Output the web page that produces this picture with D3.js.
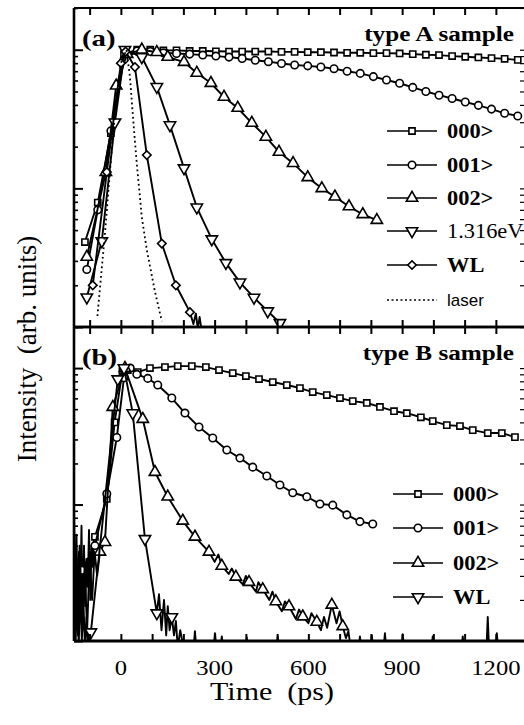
<!DOCTYPE html>
<html>
<head>
<meta charset="utf-8">
<script src="https://cdn.jsdelivr.net/npm/d3@7"></script>
<style>
    html, body { margin: 0; padding: 0; background: #fff; }
    svg { display: block; }
    text { font-family: "Liberation Serif", "Times New Roman", serif; fill: #000; }
</style>
</head>
<body>
<div id="chart"></div>
<script>
// Axis settings
const timeDomain = [-150, 1290];
const intensityDomain = [0.01, 2];
const xLabelTicks = [0, 300, 600, 900, 1200];
const xMinorTicks = [-100, 0, 100, 200, 300, 400, 500, 600, 700, 800, 900, 1000, 1100, 1200];

// ---- panel (a): type A sample ----
const a000T = [-115, -74, -32, 10, 52, 94, 136, 178, 220, 262, 304, 346, 388, 430, 472, 514, 556, 598, 640, 682, 724, 766, 808, 850, 892, 934, 976, 1018, 1060, 1102, 1144, 1186, 1228, 1270];
const a000V = [0.041, 0.079, 0.25, 0.93, 1.0, 1.0, 0.99, 0.99, 0.98, 0.98, 0.975, 0.97, 0.97, 0.97, 0.97, 0.965, 0.965, 0.96, 0.96, 0.955, 0.95, 0.95, 0.945, 0.945, 0.94, 0.93, 0.92, 0.915, 0.90, 0.89, 0.88, 0.87, 0.86, 0.845];

const a001T = [-109, -74, -32, 10, 52, 94, 136, 178, 220, 262, 304, 346, 388, 430, 472, 514, 556, 598, 640, 682, 724, 766, 808, 850, 892, 934, 976, 1018, 1060, 1102, 1144, 1186, 1228, 1270];
const a001V = [0.026, 0.07, 0.26, 0.85, 0.98, 0.97, 0.95, 0.94, 0.93, 0.915, 0.9, 0.885, 0.865, 0.84, 0.82, 0.795, 0.776, 0.765, 0.75, 0.73, 0.70, 0.675, 0.64, 0.605, 0.573, 0.535, 0.50, 0.47, 0.445, 0.42, 0.397, 0.373, 0.348, 0.333];

const a002T = [-109, -48, -15, 20, 67, 115, 150, 202, 243, 288, 330, 374, 419, 464, 506, 551, 598, 643, 685, 730, 774, 819];
const a002V = [0.032, 0.131, 0.55, 0.93, 1.0, 0.96, 0.886, 0.815, 0.68, 0.575, 0.456, 0.38, 0.296, 0.235, 0.183, 0.152, 0.12, 0.10, 0.087, 0.074, 0.065, 0.059];

const a1316T = [-109, -61, -19, 13, 67, 115, 157, 202, 243, 291, 336, 381, 426, 470, 509];
const a1316V = [0.0164, 0.0417, 0.30, 1.0, 0.886, 0.54, 0.286, 0.14, 0.073, 0.043, 0.029, 0.021, 0.0163, 0.013, 0.0107];

const aWLT = [-90, -45, 0, 15, 45, 83, 131, 176, 221];
const aWLV = [0.020, 0.131, 0.8, 0.97, 0.75, 0.174, 0.040, 0.020, 0.0128];
const aWLNoiseT = [232, 240, 246, 252, 258, 264];
const aWLNoiseV = [0.0105, 0.0125, 0.0098, 0.0118, 0.0096, 0.0092];

const aLaserT = [-75, -50, -25, 0, 18, 29, 40, 51, 67, 83, 109, 131];
const aLaserV = [0.012, 0.05, 0.25, 0.8, 1.0, 0.64, 0.3, 0.15, 0.062, 0.036, 0.018, 0.011];

// ---- panel (b): type B sample ----
const b000T = [-83, -45, -20, 5, 22, 54, 93, 141, 182, 227, 272, 314, 358, 400, 442, 486, 531, 573, 614, 659, 701, 742, 787, 829, 874, 915, 960, 998, 1043, 1085, 1126, 1174, 1219, 1261];
const b000V = [0.058, 0.11, 0.4, 0.95, 0.967, 0.935, 1.0, 1.017, 1.034, 1.034, 1.017, 0.967, 0.919, 0.874, 0.831, 0.79, 0.751, 0.714, 0.667, 0.634, 0.603, 0.573, 0.555, 0.519, 0.483, 0.467, 0.436, 0.409, 0.382, 0.376, 0.351, 0.334, 0.334, 0.312];
const b000NoiseT = [-150, -146, -142, -138, -134, -130, -126, -122, -118, -114, -110, -106, -102, -98, -94, -90, -86];
const b000NoiseV = [0.1, 0.015, 0.06, 0.011, 0.045, 0.02, 0.07, 0.012, 0.05, 0.018, 0.04, 0.025, 0.065, 0.02, 0.05, 0.035, 0.06];

const b001T = [-125, -83, -45, -13, 10, 30, 51, 86, 118, 163, 205, 250, 294, 339, 381, 422, 467, 509, 550, 595, 637, 678, 723, 765, 806];
const b001V = [0.033, 0.05, 0.12, 0.31, 0.85, 1.0, 0.9, 0.84, 0.751, 0.603, 0.468, 0.37, 0.307, 0.251, 0.219, 0.188, 0.162, 0.139, 0.122, 0.114, 0.101, 0.099, 0.084, 0.075, 0.072];
const b001NoiseT = [-150, -143, -136, -130];
const b001NoiseV = [0.02, 0.05, 0.015, 0.04];

const b002T = [-67, -51, -26, 13, 70, 109, 150, 198, 237, 282, 323, 368, 410, 454, 496, 538, 582, 627, 675, 710];
const b002V = [0.045, 0.053, 0.518, 1.0, 0.423, 0.173, 0.114, 0.076, 0.058, 0.045, 0.0355, 0.0295, 0.027, 0.0239, 0.0195, 0.0179, 0.0151, 0.0138, 0.0184, 0.0128];
const b002NoiseT = [-148, -140, -132, -124, -116, -108, -100, -92, -84, -76, 300, 312, 345, 355, 390, 400, 432, 440, 475, 485, 515, 525, 560, 570, 600, 610, 640, 650, 660, 690, 700, 720, 728, 735];
const b002NoiseV = [0.03, 0.012, 0.05, 0.015, 0.035, 0.012, 0.04, 0.02, 0.045, 0.03, 0.038, 0.043, 0.031, 0.034, 0.026, 0.030, 0.023, 0.027, 0.020, 0.023, 0.0165, 0.0195, 0.0145, 0.017, 0.0135, 0.016, 0.012, 0.015, 0.0125, 0.0135, 0.0165, 0.0105, 0.0118, 0.009];

const bWLT = [-96, -10, 10, 38, 77, 115, 163];
const bWLV = [0.0116, 0.83, 1.0, 0.468, 0.056, 0.016, 0.015];
const bWLNoiseT = [-150, -145, -140, -135, -130, -125, -120, -115, -110, -105, -100, 122, 130, 138, 145, 150, 156, 170, 176, 182, 190, 200,
    233, 237, 241, 297, 301, 305, 319, 323, 327, 399, 403, 407, 498, 502, 506, 761, 765, 769, 799, 803, 807, 841, 845, 849,
    898, 902, 906, 994, 998, 1002, 1090, 1094, 1098, 1170, 1174, 1178, 1199, 1203, 1207];
const bWLNoiseV = [0.04, 0.009, 0.03, 0.009, 0.025, 0.01, 0.02, 0.009, 0.015, 0.009, 0.012, 0.022, 0.012, 0.02, 0.011, 0.018, 0.012, 0.011, 0.014, 0.009, 0.012, 0.009,
    0.009, 0.0118, 0.009, 0.009, 0.0114, 0.009, 0.009, 0.0108, 0.009, 0.009, 0.0106, 0.009, 0.009, 0.0108, 0.009, 0.009, 0.0108, 0.009, 0.009, 0.011, 0.009, 0.009, 0.0114, 0.009,
    0.009, 0.0112, 0.009, 0.009, 0.0108, 0.009, 0.009, 0.0108, 0.009, 0.009, 0.015, 0.009, 0.009, 0.0114, 0.009];

// Legend labels
const legendA = ['000>', '001>', '002>', '1.316eV', 'WL', 'laser'];
const legendB = ['000>', '001>', '002>', 'WL'];

const zip = (t, v) => t.map((d, i) => [d, v[i]]);

const panels = [
    {
        top: 8, bottom: 327, tag: '(a)', title: 'type A sample',
        legendY: [131, 165, 198, 231, 265, 300], legendX: 387, labels: legendA,
        series: [
            { marks: zip(a000T, a000V), extra: [], symbol: 'square' },
            { marks: zip(a001T, a001V), extra: [], symbol: 'circle' },
            { marks: zip(a002T, a002V), extra: [], symbol: 'up' },
            { marks: zip(a1316T, a1316V), extra: [], symbol: 'down' },
            { marks: zip(aWLT, aWLV), extra: zip(aWLNoiseT, aWLNoiseV), symbol: 'diamond' },
            { marks: zip(aLaserT, aLaserV), extra: [], symbol: null, dotted: true }
        ]
    },
    {
        top: 327, bottom: 641, tag: '(b)', title: 'type B sample',
        legendY: [494, 528, 563, 597], legendX: 393, labels: legendB,
        series: [
            { marks: zip(b000T, b000V), extra: zip(b000NoiseT, b000NoiseV), symbol: 'square' },
            { marks: zip(b001T, b001V), extra: zip(b001NoiseT, b001NoiseV), symbol: 'circle' },
            { marks: zip(b002T, b002V), extra: zip(b002NoiseT, b002NoiseV), symbol: 'up' },
            { marks: zip(bWLT, bWLV), extra: zip(bWLNoiseT, bWLNoiseV), symbol: 'down' }
        ]
    }
];

const W = 524, H = 725;
const left = 74, right = 524;

const svg = d3.select('#chart').append('svg')
    .attr('width', W)
    .attr('height', H);

const x = d3.scaleLinear().domain(timeDomain).range([left, right]);

// the scanned figure is a little stretched sideways, so text gets a horizontal scale
function stretchedText(g, tx, ty, stretch, str) {
    return g.append('text')
        .attr('transform', `translate(${tx},${ty}) scale(${stretch},1)`)
        .style('white-space', 'pre')
        .text(str);
}

function symbolPath(kind) {
    if (kind === 'square') return d3.symbol(d3.symbolSquare, 38)();
    if (kind === 'circle') return d3.symbol(d3.symbolCircle, 44)();
    if (kind === 'up' || kind === 'down') return d3.symbol(d3.symbolTriangle, 56)();
    if (kind === 'diamond') return d3.symbol(d3.symbolSquare, 36)();
    return null;
}
function symbolRotate(kind) {
    if (kind === 'down') return 180;
    if (kind === 'diamond') return 45;
    return 0;
}

function drawMarker(g, kind, cx, cy) {
    g.append('path')
        .attr('d', symbolPath(kind))
        .attr('transform', `translate(${cx},${cy}) rotate(${symbolRotate(kind)})`)
        .attr('fill', '#fff')
        .attr('stroke', '#000')
        .attr('stroke-width', 1.6);
}

panels.forEach((p, pi) => {
    const y = d3.scaleLog().domain(intensityDomain).range([p.bottom, p.top]);
    const clipId = `clip-${pi}`;

    svg.append('clipPath').attr('id', clipId)
        .append('rect')
        .attr('x', left)
        .attr('y', p.top)
        .attr('width', right - left)
        .attr('height', p.bottom - p.top);

    const plot = svg.append('g').attr('clip-path', `url(#${clipId})`);

    const line = d3.line().x(d => x(d[0])).y(d => y(d[1]));

    p.series.forEach(s => {
        const pts = s.marks.concat(s.extra).sort((a, b) => a[0] - b[0]);
        plot.append('path')
            .datum(pts)
            .attr('d', line)
            .attr('fill', 'none')
            .attr('stroke', '#000')
            .attr('stroke-width', s.dotted ? 1.8 : 1.9)
            .attr('stroke-dasharray', s.dotted ? '1.8,3' : null)
            .attr('stroke-linejoin', 'round');

        if (s.symbol) {
            s.marks.forEach(d => drawMarker(plot, s.symbol, x(d[0]), y(d[1])));
        }
    });

    // Left log axis, ticks inward
    const yTicks = y.ticks();
    const isDecade = v => Math.abs(Math.log10(v) - Math.round(Math.log10(v))) < 1e-6;
    svg.append('g')
        .attr('transform', `translate(${left},0)`)
        .call(d3.axisRight(y).tickValues(yTicks.filter(isDecade)).tickSize(9).tickFormat(''))
        .call(g => g.select('.domain').remove())
        .selectAll('line').attr('stroke-width', 2);
    svg.append('g')
        .attr('transform', `translate(${left},0)`)
        .call(d3.axisRight(y).tickValues(yTicks.filter(v => !isDecade(v))).tickSize(4).tickFormat(''))
        .call(g => g.select('.domain').remove())
        .selectAll('line').attr('stroke-width', 1.6);

    // Right axis ticks (mostly cut off by the edge)
    svg.append('g')
        .attr('transform', `translate(${right},0)`)
        .call(d3.axisLeft(y).tickValues(yTicks).tickSize(4).tickFormat(''))
        .call(g => g.select('.domain').remove())
        .selectAll('line').attr('stroke-width', 1.2);

    // Top edge ticks pointing down into the panel
    svg.append('g')
        .attr('transform', `translate(0,${p.top})`)
        .call(d3.axisBottom(x).tickValues(xMinorTicks).tickSize(7).tickFormat(''))
        .call(g => g.select('.domain').remove())
        .selectAll('line').attr('stroke-width', 2);
    // Bottom edge ticks pointing up into the panel
    svg.append('g')
        .attr('transform', `translate(0,${p.bottom})`)
        .call(d3.axisTop(x).tickValues(xMinorTicks).tickSize(7).tickFormat(''))
        .call(g => g.select('.domain').remove())
        .selectAll('line').attr('stroke-width', 2);

    // Frame
    svg.append('line').attr('x1', left).attr('x2', right).attr('y1', p.top).attr('y2', p.top)
        .attr('stroke', '#000').attr('stroke-width', pi === 0 ? 2.2 : 2.4);
    svg.append('line').attr('x1', left).attr('x2', right).attr('y1', p.bottom).attr('y2', p.bottom)
        .attr('stroke', '#000').attr('stroke-width', pi === 1 ? 3 : 2.4);
    svg.append('line').attr('x1', left).attr('x2', left).attr('y1', p.top).attr('y2', p.bottom)
        .attr('stroke', '#000').attr('stroke-width', 2.6);

    // Panel tag and title
    stretchedText(svg, left + 8, p.top + 38, 1.2, p.tag)
        .attr('font-size', 24)
        .attr('font-weight', 'bold');
    stretchedText(svg, 514, p.top + 33, 1.2, p.title)
        .attr('text-anchor', 'end')
        .attr('font-size', 21)
        .attr('font-weight', 'bold');

    // Legend
    p.series.forEach((s, i) => {
        const ly = p.legendY[i];
        const lg = svg.append('g');
        lg.append('line')
            .attr('x1', p.legendX).attr('x2', p.legendX + 50)
            .attr('y1', ly).attr('y2', ly)
            .attr('stroke', '#000')
            .attr('stroke-width', s.dotted ? 1.5 : 1.7)
            .attr('stroke-dasharray', s.dotted ? '2,2.5' : null);
        if (s.symbol) drawMarker(lg, s.symbol, p.legendX + 25, ly);
        const label = p.labels[i];
        const t = stretchedText(lg, p.legendX + 60, ly, s.dotted ? 1.0 : 1.12, label)
            .attr('dy', '0.33em')
            .attr('font-size', s.dotted ? 17 : 20)
            .attr('font-weight', (s.dotted || label === '1.316eV') ? 'normal' : 'bold');
        if (s.dotted) t.style('font-family', '"Liberation Sans", Arial, sans-serif');
    });
});

// X tick labels under the lower panel
const tickLabels = svg.append('g');
xLabelTicks.forEach(v => {
    stretchedText(tickLabels, x(v), 675, 1.12, d3.format('d')(v))
        .attr('text-anchor', 'middle')
        .attr('font-size', 22);
});

// Axis titles
stretchedText(svg, 272, 700, 1.2, 'Time  (ps)')
    .attr('text-anchor', 'middle')
    .attr('font-size', 25);

svg.append('text')
    .attr('transform', 'translate(36,349) rotate(-90)')
    .attr('text-anchor', 'middle')
    .attr('font-size', 27)
    .style('white-space', 'pre')
    .text('Intensity  (arb. units)');
</script>
</body>
</html>
